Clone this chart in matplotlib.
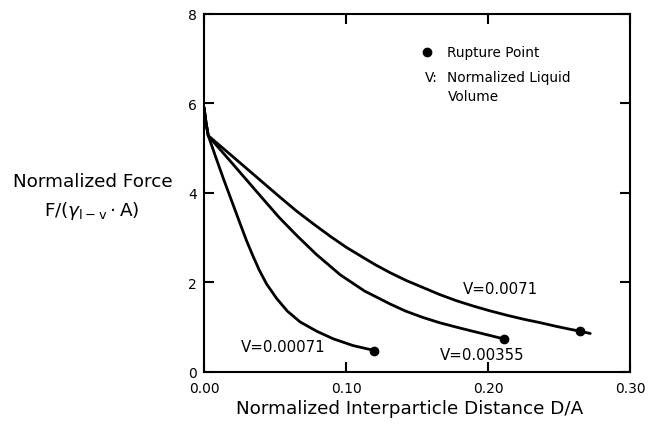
import matplotlib
matplotlib.use('Agg')
import matplotlib.pyplot as plt
from matplotlib.ticker import MultipleLocator, FormatStrFormatter

plt.rcParams['font.family'] = 'DejaVu Sans'

# Curve data (D/A, F/(gamma*A))
x_00071 = [0.000, 0.0015, 0.003, 0.0085, 0.014, 0.0195, 0.025, 0.030, 0.0345, 0.039, 0.044,
           0.0512, 0.0587, 0.0676, 0.0794, 0.0911, 0.105, 0.120]
y_00071 = [5.91, 5.55, 5.28, 4.78, 4.29, 3.82, 3.35, 2.93, 2.59, 2.27, 1.97,
           1.64, 1.36, 1.12, 0.91, 0.74, 0.59, 0.48]

x_00355 = [0.000, 0.0015, 0.003, 0.010, 0.0183, 0.030, 0.042, 0.053, 0.065, 0.079, 0.096,
           0.113, 0.131, 0.142, 0.154, 0.166, 0.178, 0.188, 0.197, 0.211]
y_00355 = [5.91, 5.55, 5.28, 5.02, 4.72, 4.29, 3.85, 3.45, 3.06, 2.63, 2.17,
           1.81, 1.52, 1.36, 1.22, 1.10, 1.00, 0.92, 0.85, 0.74]

x_0071 = [0.000, 0.0015, 0.003, 0.010, 0.020, 0.031, 0.042, 0.053, 0.065, 0.077, 0.089, 0.100,
          0.112, 0.121, 0.131, 0.142, 0.154, 0.166, 0.178, 0.190, 0.201, 0.213, 0.225, 0.237,
          0.248, 0.257, 0.265, 0.272]
y_0071 = [5.91, 5.55, 5.28, 5.09, 4.82, 4.52, 4.22, 3.92, 3.60, 3.31, 3.03, 2.79,
          2.56, 2.39, 2.22, 2.05, 1.89, 1.73, 1.59, 1.47, 1.37, 1.27, 1.18, 1.10,
          1.02, 0.96, 0.91, 0.86]

# rupture points
rupture_x = [0.120, 0.211, 0.265]
rupture_y = [0.48, 0.74, 0.91]

curve_labels = ['V=0.00071', 'V=0.00355', 'V=0.0071']
label_x = [0.0557, 0.196, 0.2085]
label_y = [0.56, 0.40, 1.855]

fig = plt.figure(figsize=(6.51, 4.31), dpi=100)
ax = fig.add_axes([0.3134, 0.1346, 0.6544, 0.8306])

for xs, ys in [(x_00071, y_00071), (x_00355, y_00355), (x_0071, y_0071)]:
    ax.plot(xs, ys, color='black', linewidth=2.0, solid_capstyle='round', solid_joinstyle='round')
ax.plot(rupture_x, rupture_y, 'o', color='black', markersize=6)

for lab, lx, ly in zip(curve_labels, label_x, label_y):
    ax.text(lx, ly, lab, ha='center', va='center', fontsize=10.8)

# legend-like notes
ax.plot([0.5235], [0.894], 'o', color='black', markersize=6, transform=ax.transAxes, clip_on=False)
ax.text(0.570, 0.894, 'Rupture Point', transform=ax.transAxes, ha='left', va='center', fontsize=9.8)
ax.text(0.519, 0.824, 'V:', transform=ax.transAxes, ha='left', va='center', fontsize=9.8)
ax.text(0.570, 0.824, 'Normalized Liquid', transform=ax.transAxes, ha='left', va='center', fontsize=9.8)
ax.text(0.573, 0.771, 'Volume', transform=ax.transAxes, ha='left', va='center', fontsize=9.8)

ax.set_xlim(0, 0.30)
ax.set_ylim(0, 8)
ax.xaxis.set_major_locator(MultipleLocator(0.10))
ax.yaxis.set_major_locator(MultipleLocator(2))
ax.xaxis.set_major_formatter(FormatStrFormatter('%.2f'))
ax.yaxis.set_major_formatter(FormatStrFormatter('%d'))

for sp in ax.spines.values():
    sp.set_linewidth(1.5)
ax.tick_params(direction='in', length=7, width=1.5, top=True, right=True, labelsize=10)
ax.tick_params(axis='x', pad=6.5)
ax.tick_params(axis='y', pad=5)

ax.set_xlabel('Normalized Interparticle Distance D/A', fontsize=13.2)
ax.xaxis.set_label_coords(0.4836, -0.075)
fig.text(92.5 / 651, 1 - 182 / 431, 'Normalized Force', ha='center', va='center', fontsize=13.2)
fig.text(92 / 651, 1 - 211 / 431, r'F/($\gamma_{\mathrm{l-v}}\cdot$A)', ha='center', va='center', fontsize=13.2)

fig.savefig('out.png', dpi=100)
